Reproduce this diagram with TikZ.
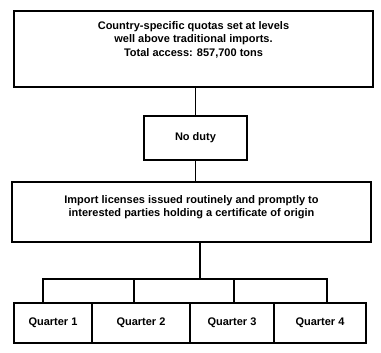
\documentclass[tikz,border=0pt]{standalone}
\usepackage{fontspec}
\setmainfont{Liberation Sans}
\begin{document}
\begin{tikzpicture}[x=1pt,y=-1pt,line width=1.2pt,
	box/.style={draw,align=center,inner sep=2pt,font=\bfseries\fontsize{11}{13.5}\selectfont},
	qbox/.style={box,minimum height=40pt}]
				\useasboundingbox (0,0) rectangle (381,353);
%				top of the chain
				\node[box,minimum width=359pt,minimum height=76pt,text depth=20pt] (quota) at (193.5,49) {Country-specific quotas set at levels\\well above traditional imports.\\Total access: 857,700 tons};
				\node[box,minimum width=103pt,minimum height=44pt] (duty) at (195.5,138) {No duty};
				\node[box,minimum width=359pt,minimum height=60pt,text depth=12pt] (licence) at (191.5,212) {Import licenses issued routinely and promptly to\\interested parties holding a certificate of origin};
%				the four quarters
				\node[qbox,minimum width=78pt] (q1) at (53,323) {Quarter 1};
				\node[qbox,minimum width=98pt] (q2) at (141,323) {Quarter 2};
				\node[qbox,minimum width=84pt] (q3) at (232,323) {Quarter 3};
				\node[qbox,minimum width=92pt] (q4) at (320,323) {Quarter 4};
				\coordinate (split) at (200,279);
				\draw (duty.north) -- (duty.north |- quota.south);
				\draw (duty.south) -- (duty.south |- licence.north);
				\draw (licence.south -| split) -- (split);
				\draw ([xshift=-10pt]q1.north) |- (split) -| ([xshift=7pt]q4.north);
				\draw ([xshift=-7pt]q2.north) |- (split);
				\draw ([xshift=2pt]q3.north) |- (split);
\end{tikzpicture}
\end{document}
